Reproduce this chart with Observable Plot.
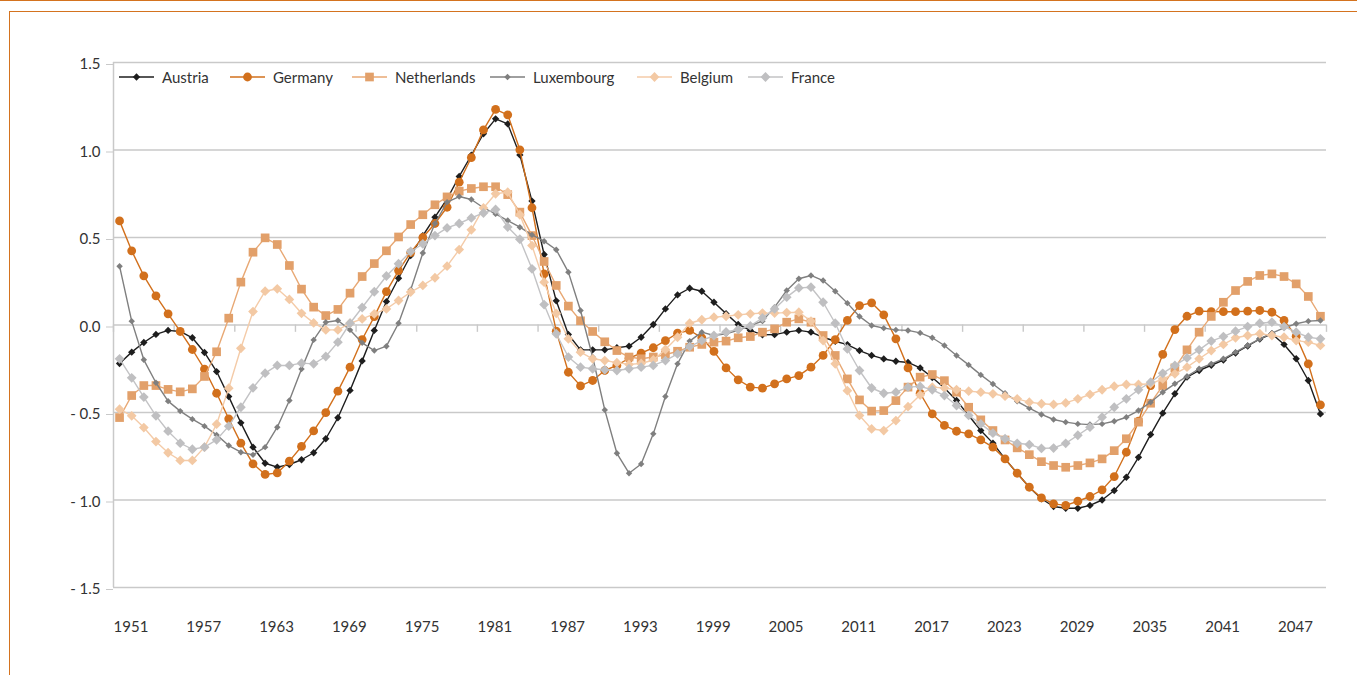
<!DOCTYPE html>
<html>
<head>
<meta charset="utf-8">
<script src="https://cdn.jsdelivr.net/npm/d3@7"></script>
<script src="https://cdn.jsdelivr.net/npm/@observablehq/plot@0.6"></script>
<style>
  html, body { margin: 0; padding: 0; background: #fff; }
  body { width: 1357px; height: 675px; position: relative; overflow: hidden; font-family: Lato, "Open Sans", sans-serif; }
  #topline { position: absolute; left: 0; top: 0; width: 1357px; border-top: 1.5px solid #d4731f; }
  #box { position: absolute; left: 9px; top: 11px; width: 1400px; height: 700px; border-left: 1.5px solid #d4731f; border-top: 1.5px solid #d4731f; }
  #chart { position: absolute; left: 0; top: 0; }
  #legend { position: absolute; left: 0; top: 68px; width: 1357px; height: 18px; font-size: 15px; color: #333; }
  .item { position: absolute; top: 0; display: flex; align-items: center; white-space: nowrap; }
  .item svg { margin-right: 8px; }
</style>
</head>
<body>
<div id="topline"></div>
<div id="box"></div>
<div id="chart"></div>
<div id="legend"></div>
<script>
// Categories: one point per year, 1951–2050
const years = d3.range(1951, 2051);
const xLabels = [1951, 1957, 1963, 1969, 1975, 1981, 1987, 1993, 1999, 2005, 2011, 2017, 2023, 2029, 2035, 2041, 2047];
const yTicks = [-1.5, -1.0, -0.5, 0.0, 0.5, 1.0, 1.5];

const austria = [
  -0.22, -0.155, -0.10, -0.054, -0.031, -0.037, -0.073, -0.157, -0.266, -0.409,
  -0.559, -0.698, -0.79, -0.812, -0.797, -0.77, -0.73, -0.65, -0.53, -0.374,
  -0.205, -0.031, 0.134, 0.267, 0.397, 0.51, 0.616, 0.72, 0.849, 0.97,
  1.093, 1.178, 1.149, 0.972, 0.708, 0.403, 0.138, -0.054, -0.142, -0.142,
  -0.142, -0.13, -0.121, -0.07, 0.003, 0.092, 0.172, 0.21, 0.193, 0.13,
  0.065, 0.003, -0.031, -0.056, -0.055, -0.041, -0.031, -0.041, -0.07, -0.093,
  -0.112, -0.146, -0.174, -0.194, -0.207, -0.214, -0.245, -0.30, -0.36, -0.431,
  -0.517, -0.603, -0.675, -0.765, -0.847, -0.927, -0.993, -1.037, -1.047, -1.047,
  -1.031, -1.0, -0.946, -0.87, -0.756, -0.626, -0.504, -0.393, -0.298, -0.26,
  -0.23, -0.2, -0.16, -0.12, -0.08, -0.05, -0.111, -0.193, -0.317, -0.508
];
const germany = [
  0.595, 0.424, 0.281, 0.167, 0.064, -0.037, -0.140, -0.252, -0.390, -0.536,
  -0.675, -0.793, -0.854, -0.845, -0.778, -0.694, -0.605, -0.501, -0.378, -0.241,
  -0.083, 0.048, 0.191, 0.311, 0.414, 0.500, 0.580, 0.673, 0.816, 0.957,
  1.115, 1.232, 1.201, 1.001, 0.670, 0.292, -0.035, -0.270, -0.348, -0.317,
  -0.260, -0.231, -0.19, -0.161, -0.13, -0.089, -0.047, -0.031, -0.073, -0.151,
  -0.245, -0.313, -0.355, -0.361, -0.336, -0.308, -0.289, -0.241, -0.174, -0.083,
  0.026, 0.111, 0.127, 0.058, -0.079, -0.245, -0.39, -0.508, -0.574, -0.607,
  -0.622, -0.656, -0.698, -0.765, -0.847, -0.927, -0.988, -1.022, -1.031, -1.007,
  -0.980, -0.942, -0.866, -0.727, -0.55, -0.346, -0.168, -0.026, 0.050, 0.079,
  0.077, 0.076, 0.076, 0.079, 0.083, 0.073, 0.026, -0.064, -0.222, -0.456
];
const netherlands = [
  -0.529, -0.403, -0.346, -0.346, -0.368, -0.382, -0.365, -0.294, -0.153, 0.039,
  0.245, 0.416, 0.498, 0.460, 0.340, 0.205, 0.102, 0.054, 0.089, 0.182,
  0.277, 0.351, 0.424, 0.503, 0.574, 0.630, 0.687, 0.732, 0.765, 0.780,
  0.790, 0.790, 0.745, 0.645, 0.511, 0.363, 0.226, 0.108, 0.024, -0.037,
  -0.096, -0.146, -0.183, -0.193, -0.183, -0.170, -0.150, -0.127, -0.111, -0.098,
  -0.092, -0.073, -0.066, -0.041, -0.022, 0.016, 0.035, 0.016, -0.060, -0.174,
  -0.308, -0.428, -0.492, -0.489, -0.432, -0.355, -0.298, -0.283, -0.318, -0.384,
  -0.470, -0.542, -0.603, -0.657, -0.702, -0.741, -0.781, -0.803, -0.813, -0.803,
  -0.788, -0.765, -0.718, -0.650, -0.555, -0.447, -0.346, -0.245, -0.142, -0.041,
  0.049, 0.130, 0.197, 0.249, 0.283, 0.292, 0.277, 0.235, 0.163, 0.050
];
const luxembourg = [
  0.336, 0.022, -0.199, -0.33, -0.435, -0.492, -0.538, -0.578, -0.628, -0.689,
  -0.727, -0.742, -0.698, -0.584, -0.431, -0.252, -0.085, 0.016, 0.026, -0.028,
  -0.102, -0.146, -0.121, 0.010, 0.201, 0.411, 0.58, 0.702, 0.734, 0.717,
  0.670, 0.635, 0.597, 0.559, 0.515, 0.479, 0.430, 0.302, 0.083, -0.183,
  -0.485, -0.733, -0.847, -0.794, -0.622, -0.409, -0.222, -0.092, -0.041, -0.060,
  -0.050, -0.031, -0.003, 0.022, 0.102, 0.197, 0.264, 0.283, 0.254, 0.193,
  0.125, 0.049, -0.003, -0.018, -0.028, -0.031, -0.045, -0.073, -0.117, -0.174,
  -0.228, -0.285, -0.337, -0.390, -0.436, -0.475, -0.511, -0.540, -0.555, -0.565,
  -0.569, -0.565, -0.550, -0.527, -0.489, -0.441, -0.384, -0.336, -0.294, -0.250,
  -0.222, -0.193, -0.155, -0.117, -0.079, -0.047, -0.016, 0.007, 0.022, 0.026
];
const belgium = [
  -0.481, -0.519, -0.586, -0.666, -0.730, -0.774, -0.774, -0.698, -0.567, -0.361,
  -0.133, 0.077, 0.193, 0.207, 0.146, 0.067, 0.012, -0.028, -0.028, 0.010,
  0.035, 0.064, 0.092, 0.140, 0.188, 0.226, 0.270, 0.336, 0.431, 0.544,
  0.669, 0.750, 0.759, 0.63, 0.454, 0.245, 0.067, -0.079, -0.155, -0.193,
  -0.203, -0.215, -0.225, -0.22, -0.20, -0.14, -0.07, 0.01, 0.03, 0.045,
  0.050, 0.058, 0.064, 0.068, 0.068, 0.071, 0.073, 0.022, -0.089, -0.222,
  -0.375, -0.517, -0.594, -0.603, -0.546, -0.467, -0.40, -0.355, -0.360, -0.370,
  -0.378, -0.384, -0.393, -0.407, -0.422, -0.441, -0.450, -0.454, -0.445, -0.422,
  -0.397, -0.370, -0.350, -0.340, -0.340, -0.336, -0.308, -0.279, -0.241, -0.193,
  -0.146, -0.111, -0.073, -0.060, -0.050, -0.060, -0.070, -0.089, -0.098, -0.117
];
const france = [
  -0.193, -0.302, -0.412, -0.519, -0.607, -0.675, -0.710, -0.698, -0.656, -0.578,
  -0.470, -0.359, -0.275, -0.231, -0.231, -0.218, -0.222, -0.180, -0.098, 0.01,
  0.10, 0.19, 0.28, 0.35, 0.42, 0.463, 0.511, 0.555, 0.58, 0.612,
  0.64, 0.66, 0.56, 0.49, 0.321, 0.117, -0.05, -0.183, -0.241, -0.250,
  -0.256, -0.26, -0.250, -0.241, -0.231, -0.203, -0.165, -0.123, -0.089, -0.06,
  -0.04, -0.025, -0.005, 0.04, 0.092, 0.159, 0.212, 0.216, 0.130, 0.010,
  -0.137, -0.260, -0.360, -0.390, -0.384, -0.355, -0.351, -0.37, -0.403, -0.46,
  -0.517, -0.565, -0.618, -0.650, -0.676, -0.683, -0.705, -0.703, -0.676, -0.63,
  -0.584, -0.527, -0.470, -0.422, -0.370, -0.327, -0.276, -0.231, -0.188, -0.142,
  -0.092, -0.066, -0.035, -0.009, 0.010, 0.016, -0.009, -0.041, -0.070, -0.079
];

const seriesNames = ["Austria", "Germany", "Netherlands", "Luxembourg", "Belgium", "France"];
const seriesValues = [austria, germany, netherlands, luxembourg, belgium, france];

// styling per series (not data)
const styles = {
  Austria:     {line: "#1e1e1e", fill: "#1e1e1e", symbol: "diamond2", r: 3.3},
  Germany:     {line: "#d2701c", fill: "#d2701c", symbol: "circle",   r: 4.4},
  Netherlands: {line: "#e8a874", fill: "#e2a06a", symbol: "square",   r: 4.9},
  Luxembourg:  {line: "#7f7f7f", fill: "#7f7f7f", symbol: "diamond2", r: 2.9},
  Belgium:     {line: "#f4cba8", fill: "#f3c9a4", symbol: "diamond2", r: 4.4},
  France:      {line: "#c3c3c5", fill: "#bfbfc1", symbol: "diamond2", r: 4.4}
};
// legend layout: left edge of each legend entry (px)
const legendLeft = [119, 230, 352, 490, 637, 748];

const rows = seriesNames.flatMap((name, i) =>
  seriesValues[i].map((v, j) => ({name, year: years[j], value: v})));

const xTickMarks = d3.range(years[0] - 0.5, years[years.length - 1] + 1, 5);
const fmt = d => d < 0 ? "- " + Math.abs(d).toFixed(1) : d.toFixed(1);

const seriesMarks = seriesNames.flatMap(name => {
  const s = styles[name];
  const d = rows.filter(r => r.name === name);
  return [
    Plot.line(d, {x: "year", y: "value", stroke: s.line, strokeWidth: 1.4}),
    Plot.dot(d, {x: "year", y: "value", fill: s.fill, stroke: "none", symbol: s.symbol, r: s.r})
  ];
});

const chart = Plot.plot({
  width: 1357,
  height: 675,
  marginLeft: 113,
  marginRight: 31,
  marginTop: 62,
  marginBottom: 88,
  x: {type: "linear", domain: [years[0] - 0.5, years[years.length - 1] + 0.5]},
  y: {domain: [-1.5, 1.5]},
  style: {fontFamily: "Lato, 'Open Sans', sans-serif", fontSize: "15px", color: "#333", background: "transparent", overflow: "visible"},
  marks: [
    Plot.ruleY(yTicks, {stroke: "#c9c9c9", strokeWidth: 1.4}),
    Plot.ruleX([years[0] - 0.5], {stroke: "#c9c9c9", strokeWidth: 1.5}),
    Plot.ruleX(xTickMarks, {y1: 0, y2: -0.042, stroke: "#c9c9c9", strokeWidth: 1.4}),
    Plot.axisY({ticks: yTicks, tickSize: 7, tickPadding: 6, tickFormat: fmt, stroke: "#c9c9c9", fill: "#333", dy: 2, label: null}),
    Plot.axisX({ticks: xLabels, tickSize: 0, tickPadding: 34, tickFormat: d => String(d), textAnchor: "start", dx: -6, fill: "#333", label: null}),
    ...seriesMarks
  ]
});
document.getElementById("chart").appendChild(chart);

// Legend (HTML, placed over the plot's top band)
const legend = d3.select("#legend");
seriesNames.forEach((name, i) => {
  const s = styles[name];
  const item = legend.append("div").attr("class", "item").style("left", legendLeft[i] + "px");
  const sw = item.append("svg").attr("width", 35).attr("height", 14);
  sw.append("line").attr("x1", 0).attr("x2", 35).attr("y1", 7).attr("y2", 7).attr("stroke", s.line).attr("stroke-width", 1.4);
  const sym = {circle: d3.symbolCircle, square: d3.symbolSquare, diamond2: d3.symbolDiamond2}[s.symbol];
  sw.append("path").attr("transform", "translate(17.5,7)")
    .attr("d", d3.symbol(sym, Math.PI * s.r * s.r)()).attr("fill", s.fill);
  item.append("span").text(name);
});
</script>
</body>
</html>
